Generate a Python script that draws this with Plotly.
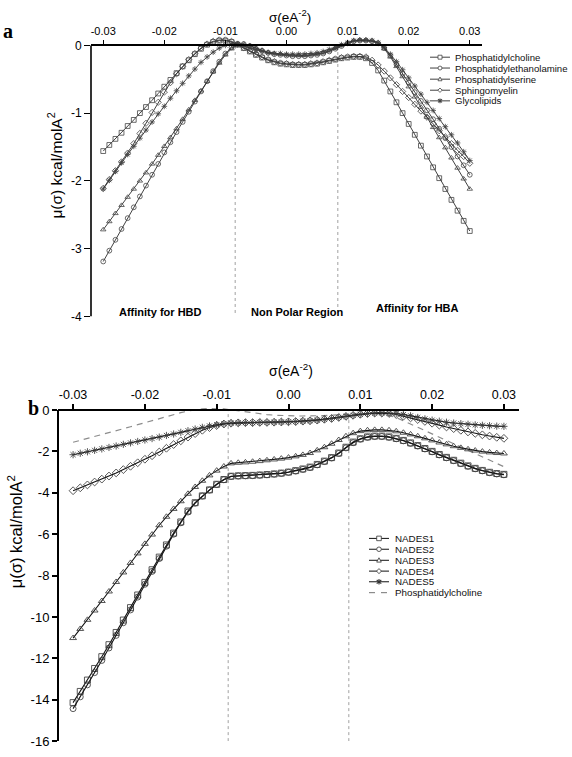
import plotly.graph_objects as go

# ---------------- data ----------------
SIGMA = [-0.030, -0.029, -0.028, -0.027, -0.026, -0.025, -0.024, -0.023, -0.022, -0.021,
         -0.020, -0.019, -0.018, -0.017, -0.016, -0.015, -0.014, -0.013, -0.012, -0.011,
         -0.010, -0.009, -0.008, -0.007, -0.006, -0.005, -0.004, -0.003, -0.002, -0.001,
         0.000, 0.001, 0.002, 0.003, 0.004, 0.005, 0.006, 0.007, 0.008, 0.009,
         0.010, 0.011, 0.012, 0.013, 0.014, 0.015, 0.016, 0.017, 0.018, 0.019,
         0.020, 0.021, 0.022, 0.023, 0.024, 0.025, 0.026, 0.027, 0.028, 0.029,
         0.030]

# Panel a: lipid sigma potentials
PHOSPHATIDYLCHOLINE = [
    -1.56, -1.47, -1.38, -1.29, -1.19, -1.10, -1.00, -0.91, -0.81, -0.71,
    -0.61, -0.51, -0.41, -0.31, -0.22, -0.13, -0.05, 0.01, 0.05, 0.07,
    0.07, 0.05, 0.01, -0.04, -0.09, -0.14, -0.18, -0.22, -0.25, -0.27,
    -0.28, -0.29, -0.29, -0.29, -0.28, -0.27, -0.25, -0.23, -0.21, -0.19,
    -0.18, -0.17, -0.17, -0.19, -0.26, -0.37, -0.52, -0.68, -0.84, -1.00,
    -1.16, -1.32, -1.48, -1.64, -1.80, -1.96, -2.12, -2.28, -2.44, -2.59,
    -2.74]
PHOSPHATIDYLETHANOLAMINE = [
    -3.19, -3.03, -2.87, -2.71, -2.55, -2.39, -2.23, -2.07, -1.91, -1.75,
    -1.58, -1.43, -1.28, -1.13, -0.98, -0.83, -0.68, -0.53, -0.38, -0.24,
    -0.12, -0.03, 0.02, 0.02, -0.01, -0.05, -0.08, -0.11, -0.13, -0.14,
    -0.15, -0.16, -0.16, -0.16, -0.15, -0.14, -0.12, -0.09, -0.05, -0.01,
    0.03, 0.06, 0.07, 0.07, 0.06, 0.03, -0.04, -0.15, -0.28, -0.42,
    -0.55, -0.69, -0.82, -0.96, -1.09, -1.23, -1.37, -1.50, -1.64, -1.77,
    -1.91]
PHOSPHATIDYLSERINE = [
    -2.72, -2.60, -2.48, -2.36, -2.24, -2.12, -2.00, -1.88, -1.75, -1.62,
    -1.49, -1.36, -1.23, -1.09, -0.95, -0.81, -0.67, -0.53, -0.39, -0.26,
    -0.14, -0.05, 0.01, 0.02, 0.00, -0.04, -0.07, -0.10, -0.12, -0.13,
    -0.14, -0.15, -0.15, -0.15, -0.14, -0.13, -0.11, -0.08, -0.04, 0.00,
    0.04, 0.07, 0.08, 0.08, 0.07, 0.04, -0.05, -0.17, -0.31, -0.46,
    -0.61, -0.76, -0.91, -1.06, -1.21, -1.36, -1.51, -1.66, -1.81, -1.97,
    -2.12]
SPHINGOMYELIN = [
    -2.11, -1.98, -1.85, -1.72, -1.59, -1.45, -1.30, -1.15, -0.99, -0.84,
    -0.69, -0.55, -0.42, -0.31, -0.21, -0.12, -0.04, 0.02, 0.06, 0.08,
    0.08, 0.06, 0.02, -0.03, -0.08, -0.13, -0.17, -0.21, -0.24, -0.26,
    -0.27, -0.28, -0.28, -0.28, -0.27, -0.26, -0.24, -0.22, -0.20, -0.18,
    -0.17, -0.16, -0.16, -0.17, -0.22, -0.29, -0.38, -0.48, -0.58, -0.68,
    -0.77, -0.87, -0.97, -1.06, -1.16, -1.26, -1.35, -1.45, -1.55, -1.64,
    -1.74]
GLYCOLIPIDS = [
    -2.12, -1.99, -1.86, -1.73, -1.61, -1.49, -1.37, -1.25, -1.13, -1.01,
    -0.90, -0.78, -0.67, -0.56, -0.45, -0.35, -0.25, -0.17, -0.10, -0.04,
    0.00, 0.02, 0.02, -0.01, -0.04, -0.07, -0.09, -0.11, -0.12, -0.12,
    -0.13, -0.13, -0.13, -0.13, -0.12, -0.11, -0.09, -0.06, -0.03, 0.01,
    0.04, 0.07, 0.08, 0.08, 0.07, 0.04, -0.03, -0.13, -0.24, -0.36,
    -0.48, -0.60, -0.72, -0.84, -0.96, -1.08, -1.20, -1.32, -1.44, -1.57,
    -1.70]

# Panel b: NADES sigma potentials
NADES1 = [
    -14.14, -13.60, -13.05, -12.49, -11.92, -11.34, -10.75, -10.15, -9.55, -8.94,
    -8.33, -7.72, -7.11, -6.52, -5.95, -5.41, -4.88, -4.48, -4.15, -3.86,
    -3.59, -3.36, -3.20, -3.18, -3.17, -3.16, -3.14, -3.12, -3.09, -3.05,
    -3.00, -2.93, -2.85, -2.76, -2.63, -2.47, -2.30, -2.08, -1.80, -1.55,
    -1.39, -1.30, -1.26, -1.26, -1.30, -1.37, -1.47, -1.59, -1.72, -1.86,
    -2.00, -2.15, -2.29, -2.43, -2.57, -2.70, -2.82, -2.92, -3.01, -3.07,
    -3.11]
NADES2 = [
    -14.43, -13.86, -13.28, -12.69, -12.10, -11.50, -10.89, -10.28, -9.66, -9.04,
    -8.42, -7.80, -7.18, -6.58, -6.00, -5.45, -4.93, -4.50, -4.16, -3.87,
    -3.60, -3.37, -3.21, -3.19, -3.18, -3.17, -3.15, -3.13, -3.10, -3.06,
    -3.01, -2.95, -2.87, -2.78, -2.65, -2.49, -2.32, -2.10, -1.83, -1.58,
    -1.41, -1.32, -1.28, -1.28, -1.32, -1.39, -1.49, -1.61, -1.74, -1.88,
    -2.02, -2.17, -2.31, -2.45, -2.59, -2.72, -2.84, -2.94, -3.03, -3.09,
    -3.13]
NADES3 = [
    -11.02, -10.58, -10.14, -9.69, -9.23, -8.77, -8.31, -7.85, -7.39, -6.93,
    -6.47, -6.02, -5.57, -5.16, -4.78, -4.41, -4.05, -3.72, -3.42, -3.16,
    -2.93, -2.73, -2.58, -2.55, -2.53, -2.50, -2.47, -2.43, -2.39, -2.35,
    -2.30, -2.24, -2.17, -2.08, -1.95, -1.80, -1.63, -1.45, -1.27, -1.12,
    -1.02, -0.98, -0.96, -0.96, -0.98, -1.03, -1.10, -1.18, -1.27, -1.37,
    -1.47, -1.57, -1.66, -1.75, -1.83, -1.90, -1.96, -2.01, -2.05, -2.08,
    -2.10]
NADES4 = [
    -3.90, -3.76, -3.62, -3.48, -3.34, -3.19, -3.04, -2.88, -2.72, -2.55,
    -2.38, -2.21, -2.03, -1.85, -1.67, -1.49, -1.31, -1.14, -0.98, -0.85,
    -0.75, -0.68, -0.64, -0.62, -0.61, -0.61, -0.60, -0.60, -0.59, -0.58,
    -0.57, -0.56, -0.54, -0.52, -0.49, -0.45, -0.41, -0.36, -0.31, -0.26,
    -0.21, -0.17, -0.15, -0.15, -0.17, -0.22, -0.30, -0.38, -0.46, -0.55,
    -0.64, -0.73, -0.82, -0.90, -0.98, -1.06, -1.13, -1.20, -1.26, -1.32,
    -1.37]
NADES5 = [
    -2.16, -2.09, -2.02, -1.95, -1.88, -1.81, -1.74, -1.66, -1.59, -1.52,
    -1.45, -1.38, -1.31, -1.23, -1.16, -1.08, -1.00, -0.92, -0.84, -0.77,
    -0.71, -0.66, -0.63, -0.62, -0.61, -0.61, -0.60, -0.60, -0.59, -0.58,
    -0.57, -0.56, -0.54, -0.52, -0.49, -0.45, -0.41, -0.36, -0.31, -0.26,
    -0.21, -0.17, -0.15, -0.14, -0.15, -0.17, -0.22, -0.28, -0.36, -0.43,
    -0.49, -0.54, -0.59, -0.63, -0.66, -0.69, -0.72, -0.74, -0.76, -0.78,
    -0.79]

X_TICKS = [-0.03, -0.02, -0.01, 0.00, 0.01, 0.02, 0.03]
X_TICK_LABELS = ["-0.03", "-0.02", "-0.01", "0.00", "0.01", "0.02", "0.03"]
YA_TICKS = [0, -1, -2, -3, -4]
YB_TICKS = [0, -2, -4, -6, -8, -10, -12, -14, -16]
HB_CUTOFF = 0.0084

LIPIDS = ["Phosphatidylcholine", "Phosphatidylethanolamine", "Phosphatidylserine",
          "Sphingomyelin", "Glycolipids"]
LIPID_VALUES = [PHOSPHATIDYLCHOLINE, PHOSPHATIDYLETHANOLAMINE, PHOSPHATIDYLSERINE,
                SPHINGOMYELIN, GLYCOLIPIDS]
NADES_NAMES = ["NADES1", "NADES2", "NADES3", "NADES4", "NADES5"]
NADES_VALUES = [NADES1, NADES2, NADES3, NADES4, NADES5]

# ---------------- styling / layout helpers ----------------
W, H = 572, 757
SANS = "Liberation Sans, Arial, sans-serif"
SERIF = "Liberation Serif, Times New Roman, serif"
SYMBOLS = ["square", "circle", "triangle-up", "diamond", "asterisk"]
DARK = "#2b2b2b"


def px(X):
    return X / W


def py(Y):
    return 1 - Y / H


fig = go.Figure()

# panel a traces
for name, vals, sym in zip(LIPIDS, LIPID_VALUES, SYMBOLS):
    fig.add_trace(go.Scatter(
        x=SIGMA, y=vals, name=name, mode="lines+markers", xaxis="x", yaxis="y",
        line=dict(color=DARK, width=0.9),
        marker=dict(symbol=sym + "-open", size=4.8, color="#444",
                    line=dict(width=0.8, color="#444")),
        showlegend=False, cliponaxis=False))

# panel b traces
fig.add_trace(go.Scatter(
    x=SIGMA, y=PHOSPHATIDYLCHOLINE, name="Phosphatidylcholine", mode="lines",
    xaxis="x2", yaxis="y2", line=dict(color="#8c8c8c", width=1.2, dash="6px,5px"),
    showlegend=False))
for name, vals, sym in zip(NADES_NAMES, NADES_VALUES, SYMBOLS):
    fig.add_trace(go.Scatter(
        x=SIGMA, y=vals, name=name, mode="lines+markers", xaxis="x2", yaxis="y2",
        line=dict(color="#111", width=1.1),
        marker=dict(symbol=sym + "-open", size=6, color="#3a3a3a",
                    line=dict(width=0.85, color="#3a3a3a")),
        showlegend=False, cliponaxis=False))

# axes geometry (pixels)
A_LEFT, A_RIGHT, A_ZERO, A_BOTTOM = 91, 482, 43, 318
A_YTOP = 0.1
A_PPU = (A_BOTTOM - A_ZERO) / 4.0
B_LEFT, B_RIGHT, B_ZERO, B_BOTTOM = 58, 519, 413, 749
B_YTOP = 0.2
B_PPU = (B_BOTTOM - B_ZERO) / 16.0

axis_common = dict(showgrid=False, zeroline=False, ticks="outside",
                   tickcolor="black", linecolor="black")

fig.update_layout(
    width=W, height=H, margin=dict(l=0, r=0, t=0, b=0),
    paper_bgcolor="white", plot_bgcolor="white", showlegend=False,
    font=dict(family=SANS, color="black"),
    xaxis=dict(domain=[px(A_LEFT), px(A_RIGHT)], range=[-0.032, 0.032],
               anchor="free", position=py(A_ZERO), side="top",
               tickvals=X_TICKS, ticktext=X_TICK_LABELS, ticklen=5, tickwidth=1.3,
               showline=True, linewidth=1.6, tickfont=dict(size=11, family=SANS),
               **axis_common),
    yaxis=dict(domain=[py(A_BOTTOM), py(A_ZERO - A_YTOP * A_PPU)], range=[-4, A_YTOP],
               anchor="x", tickvals=YA_TICKS, ticktext=[str(v) for v in YA_TICKS],
               ticklen=6, tickwidth=1.3, showline=False,
               tickfont=dict(size=12, family=SANS), **axis_common),
    xaxis2=dict(domain=[px(B_LEFT), px(B_RIGHT)], range=[-0.0321, 0.0321],
                anchor="free", position=py(B_ZERO), side="top",
                tickvals=X_TICKS, ticktext=X_TICK_LABELS, ticklen=5, tickwidth=1.6,
                showline=True, linewidth=2, tickfont=dict(size=12.5, family=SANS),
                **axis_common),
    yaxis2=dict(domain=[py(B_BOTTOM), py(B_ZERO - B_YTOP * B_PPU)], range=[-16, B_YTOP],
                anchor="x2", tickvals=YB_TICKS, ticktext=[str(v) for v in YB_TICKS],
                ticklen=5, tickwidth=1.6, showline=False,
                tickfont=dict(size=13, family=SANS), **axis_common),
)

shapes = []
# y axis lines (from 0 down to the bottom of each range)
shapes.append(dict(type="line", xref="x domain", yref="y", x0=0, x1=0, y0=-4, y1=0,
                   line=dict(color="black", width=1.6)))
shapes.append(dict(type="line", xref="x2 domain", yref="y2", x0=0, x1=0, y0=-16, y1=0,
                   line=dict(color="black", width=2)))
# hydrogen-bond cutoff lines
for s in (-HB_CUTOFF, HB_CUTOFF):
    shapes.append(dict(type="line", xref="x", yref="y", x0=s, x1=s, y0=-3.95, y1=0,
                       line=dict(color="#a0a0a0", width=1, dash="dot"), layer="below"))
    shapes.append(dict(type="line", xref="x2", yref="y2", x0=s, x1=s, y0=-16, y1=0,
                       line=dict(color="#a0a0a0", width=1, dash="dot"), layer="below"))


def glyph(sym, X, Y, r, color, width):
    """legend glyph drawn in paper coordinates around pixel centre (X, Y)"""
    out = []
    lw = dict(color=color, width=width)
    if sym == "square":
        out.append(dict(type="rect", x0=px(X - r), x1=px(X + r), y0=py(Y + r), y1=py(Y - r),
                        line=lw, fillcolor="white"))
    elif sym == "circle":
        out.append(dict(type="circle", x0=px(X - r), x1=px(X + r), y0=py(Y + r), y1=py(Y - r),
                        line=lw, fillcolor="white"))
    elif sym == "triangle-up":
        p = "M %f,%f L %f,%f L %f,%f Z" % (px(X - r), py(Y + r * 0.8), px(X + r), py(Y + r * 0.8),
                                           px(X), py(Y - r * 1.1))
        out.append(dict(type="path", path=p, line=lw, fillcolor="white"))
    elif sym == "diamond":
        p = "M %f,%f L %f,%f L %f,%f L %f,%f Z" % (px(X - r * 1.1), py(Y), px(X), py(Y - r * 1.1),
                                                   px(X + r * 1.1), py(Y), px(X), py(Y + r * 1.1))
        out.append(dict(type="path", path=p, line=lw, fillcolor="white"))
    else:  # asterisk
        p = "M %f,%f L %f,%f M %f,%f L %f,%f M %f,%f L %f,%f" % (
            px(X), py(Y - r * 1.2), px(X), py(Y + r * 1.2),
            px(X - r), py(Y - r * 0.8), px(X + r), py(Y + r * 0.8),
            px(X - r), py(Y + r * 0.8), px(X + r), py(Y - r * 0.8))
        out.append(dict(type="path", path=p, line=dict(color=color, width=width + 0.3)))
    for s in out:
        s.update(xref="paper", yref="paper")
    return out


annotations = []

# legend panel a
LEG_A_ROWS = [55, 66, 77.3, 88.5, 99.3]
for name, sym, Y in zip(LIPIDS, SYMBOLS, LEG_A_ROWS):
    shapes.append(dict(type="line", xref="paper", yref="paper", x0=px(430), x1=px(450),
                       y0=py(Y), y1=py(Y), line=dict(color=DARK, width=0.9)))
    shapes += glyph(sym, 440, Y, 2.0, "#444", 0.8)
    annotations.append(dict(text=name, x=px(453), y=py(Y), xref="paper", yref="paper",
                            xanchor="left", yanchor="middle", showarrow=False,
                            font=dict(size=9.6, family=SANS, color="#111")))

# legend panel b
LEG_B_ROWS = [543.3, 554.3, 565.5, 576.5, 587.3, 598.3]
for name, sym, Y in zip(NADES_NAMES, SYMBOLS, LEG_B_ROWS[:5]):
    shapes.append(dict(type="line", xref="paper", yref="paper", x0=px(369), x1=px(389),
                       y0=py(Y), y1=py(Y), line=dict(color="#111", width=1)))
    shapes += glyph(sym, 379, Y, 2.3, "#333", 0.8)
    annotations.append(dict(text=name, x=px(393), y=py(Y),
                            xref="paper", yref="paper", xanchor="left", yanchor="middle",
                            showarrow=False, font=dict(size=9.8, family=SANS, color="#111")))
Yd = LEG_B_ROWS[5]
shapes.append(dict(type="line", xref="paper", yref="paper", x0=px(369), x1=px(375),
                   y0=py(Yd), y1=py(Yd), line=dict(color="#8c8c8c", width=1.2)))
shapes.append(dict(type="line", xref="paper", yref="paper", x0=px(381), x1=px(387),
                   y0=py(Yd), y1=py(Yd), line=dict(color="#8c8c8c", width=1.2)))
annotations.append(dict(text="Phosphatidylcholine", x=px(393), y=py(Yd), xref="paper",
                        yref="paper", xanchor="left", yanchor="middle", showarrow=False,
                        font=dict(size=9.8, family=SANS, color="#111")))


def note(text, X, Y, size, family=SANS, bold=False, angle=0):
    t = "<b>%s</b>" % text if bold else text
    annotations.append(dict(text=t, x=px(X), y=py(Y), xref="paper", yref="paper",
                            xanchor="center", yanchor="middle", showarrow=False,
                            textangle=angle, font=dict(size=size, family=family, color="black")))


note("a", 8, 28, 20, SERIF, bold=True)
note("b", 33, 411, 20, SERIF, bold=True)
note("σ(eA<sup>-2</sup>)", 290, 13, 13.5)
note("σ(eA<sup>-2</sup>)", 291, 372, 14)
note("μ(σ) kcal/molA<sup>2</sup>", 55, 165, 15.5, angle=-90)
note("μ(σ) kcal/molA<sup>2</sup>", 15, 537, 16.5, angle=-90)
note("Affinity for HBD", 160, 314, 11, bold=True)
note("Non Polar Region", 297, 314, 11, bold=True)
note("Affinity for HBA", 417, 310, 11, bold=True)

fig.update_layout(shapes=shapes, annotations=annotations)
fig.write_html("out.html", config={"displayModeBar": False},
               post_script="document.body.style.margin='0px';")
